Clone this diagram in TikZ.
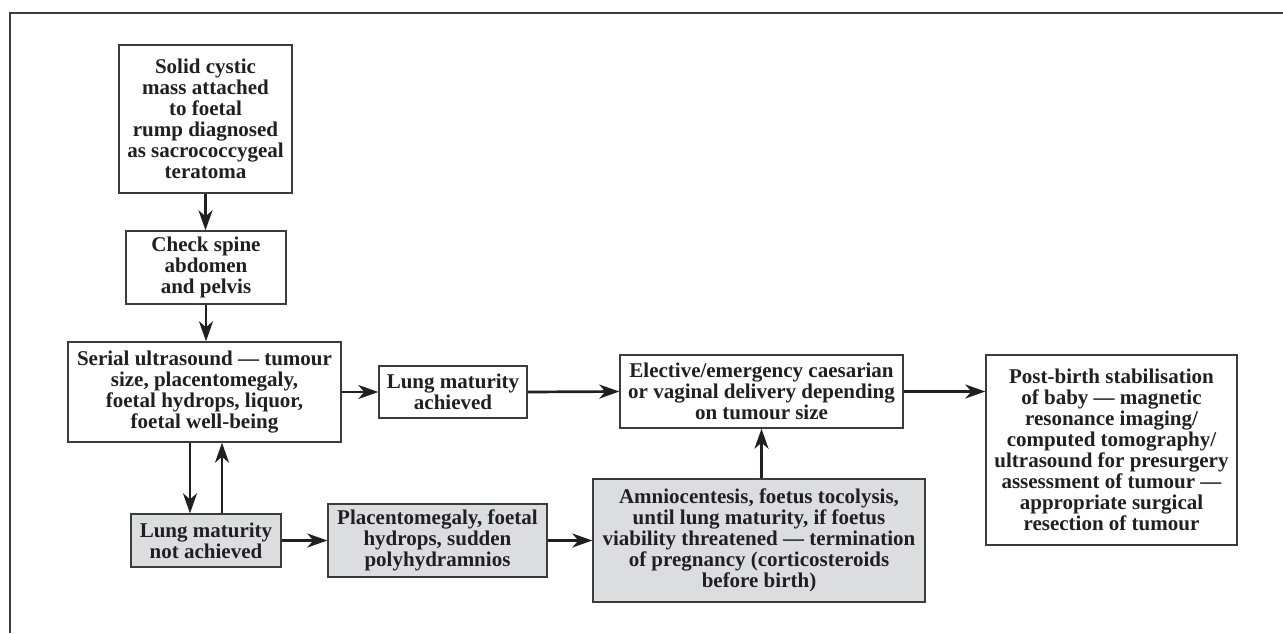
\documentclass[tikz,border=0pt]{standalone}
\usepackage{fontspec}
\setmainfont{Liberation Serif}
\usetikzlibrary{arrows.meta,calc}
\definecolor{ink}{RGB}{35,31,32}
\definecolor{boxgray}{RGB}{220,221,223}
\definecolor{edge}{RGB}{60,60,60}
\begin{document}
\begin{tikzpicture}[x=1pt,y=-1pt,
  box/.style={draw=edge,line width=1.4pt,fill=white,align=center,inner sep=0pt,
    font=\fontsize{21}{21}\selectfont\bfseries,text=ink},
  greybox/.style={box,fill=boxgray},
  arr/.style={draw=ink,line width=2.7pt,-{Stealth[length=20pt,width=14pt,inset=6pt]}}]
\useasboundingbox (0,0) rectangle (1283,633);
\draw[edge,line width=1.4pt] (10,633) -- (10,13) -- (1283,13);

\node[box,minimum width=173pt,minimum height=148pt] (b1) at (205.5,119)
  {Solid cystic\\mass attached\\to foetal\\rump diagnosed\\as sacrococcygeal\\teratoma};
\node[box,minimum width=160pt,minimum height=73pt] (b2) at (206,267.5)
  {Check spine\\abdomen\\and pelvis};
\node[box,minimum width=273pt,minimum height=100pt] (b3) at (204.5,392)
  {Serial ultrasound — tumour\\size, placentomegaly,\\foetal hydrops, liquor,\\foetal well-being};
\node[box,minimum width=148pt,minimum height=52pt] (b8) at (453,392)
  {Lung maturity\\achieved};
\node[box,minimum width=283pt,minimum height=73pt] (b7) at (761.5,391.5)
  {Elective/emergency caesarian\\or vaginal delivery depending\\on tumour size};
\node[box,minimum width=251pt,minimum height=190pt] (b9) at (1111.5,450)
  {Post-birth stabilisation\\of baby — magnetic\\resonance imaging/\\computed tomography/\\ultrasound for presurgery\\assessment of tumour —\\appropriate surgical\\resection of tumour};
\node[greybox,minimum width=150pt,minimum height=53pt] (b4) at (206,540.5)
  {Lung maturity\\not achieved};
\node[greybox,minimum width=219pt,minimum height=73pt] (b5) at (437.5,540.5)
  {Placentomegaly, foetal\\hydrops, sudden\\polyhydramnios};
\node[greybox,minimum width=332pt,minimum height=123pt] (b6) at (759,540.5)
  {Amniocentesis, foetus tocolysis,\\until lung maturity, if foetus\\viability threatened — termination\\of pregnancy (corticosteroids\\before birth)};

\draw[arr] (b1.south) -- (b1.south |- b2.north);
\draw[arr] (b2.south) -- (b2.south |- b3.north);
\draw[arr] (b3.east) -- (b8.west);
\draw[arr] (b8.east) -- (b7.west);
\draw[arr] (b7.east) -- (b7.east -| b9.west);
\draw[arr] ([xshift=-14.5pt]b3.south) -- ([xshift=-14.5pt]b3.south |- b4.north);
\draw[arr] ([xshift=17.5pt]b3.south |- b4.north) -- ([xshift=17.5pt]b3.south);
\draw[arr] (b4.east) -- (b5.west);
\draw[arr] (b5.east) -- (b6.west);
\draw[arr] (b7.south |- b6.north) -- (b7.south);
\end{tikzpicture}
\end{document}
